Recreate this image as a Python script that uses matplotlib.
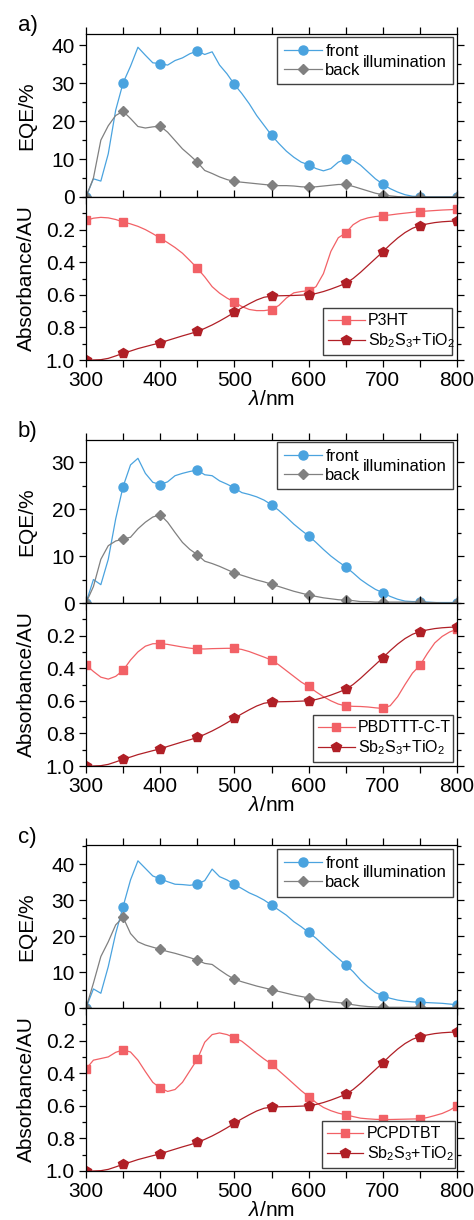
import numpy as np
import matplotlib
matplotlib.use("Agg")
from matplotlib import pyplot as plt
from matplotlib.lines import Line2D
from matplotlib.ticker import MultipleLocator, FormatStrFormatter

plt.rcParams['font.family'] = ['Liberation Sans', 'DejaVu Sans']
plt.rcParams['mathtext.fontset'] = 'custom'
plt.rcParams['mathtext.rm'] = 'Liberation Sans'
plt.rcParams['mathtext.it'] = 'Liberation Sans:italic'
plt.rcParams['mathtext.bf'] = 'Liberation Sans:bold'

# wavelength grid (nm), markers every 50 nm
wavelength = np.arange(300, 801, 10)

# ---- panel a) P3HT ----
eqe_a_front = [0, 4.8, 4.2, 11.4, 22.9, 30.1, 34.5, 39.5, 37.4, 35.4,
               35.2, 34.8, 36.0, 36.7, 37.8, 38.5, 37.6, 38.3, 34.8, 32.5,
               29.7, 27.3, 24.6, 21.5, 18.9, 16.3, 14.1, 12.1, 10.5, 9.2,
               8.5, 7.5, 6.9, 7.5, 9.2, 10.0, 9.8, 8.4, 6.6, 4.8,
               3.4, 2.2, 1.3, 0.6, 0.2, 0.1, 0, 0, 0, 0, 0]
eqe_a_back = [0, 5.0, 15.0, 18.8, 21.5, 22.6, 20.7, 18.6, 18.2, 18.5,
              18.7, 17.1, 14.9, 12.7, 11.0, 9.2, 7.0, 6.2, 5.3, 4.6,
              4.1, 3.9, 3.7, 3.5, 3.3, 3.1, 3.0, 3.0, 2.9, 2.7,
              2.6, 2.7, 2.9, 3.1, 3.3, 3.3, 2.8, 2.2, 1.6, 1.0,
              0.6, 0.3, 0.1, 0, 0, 0, 0, 0, 0, 0, 0]
abs_p3ht = [0.144, 0.130, 0.125, 0.128, 0.138, 0.153, 0.165, 0.180, 0.200, 0.225,
            0.252, 0.280, 0.310, 0.345, 0.390, 0.437, 0.490, 0.550, 0.590, 0.620,
            0.645, 0.672, 0.690, 0.697, 0.697, 0.691, 0.665, 0.620, 0.588, 0.580,
            0.575, 0.550, 0.470, 0.334, 0.250, 0.221, 0.170, 0.142, 0.128, 0.120,
            0.115, 0.110, 0.104, 0.099, 0.094, 0.089, 0.086, 0.083, 0.080, 0.078,
            0.076]

# ---- panel b) PBDTTT-C-T ----
eqe_b_front = [0, 5.0, 3.9, 9.3, 17.9, 24.8, 29.4, 30.8, 27.6, 25.7,
               25.2, 25.8, 27.1, 27.6, 28.0, 28.3, 27.3, 27.1, 26.0, 25.3,
               24.5, 23.5, 23.1, 22.6, 21.9, 20.9, 19.7, 18.3, 16.8, 15.5,
               14.3, 12.9, 11.4, 10.0, 8.8, 7.7, 6.4, 5.0, 3.9, 2.9,
               2.2, 1.4, 0.8, 0.4, 0.3, 0.3, 0.2, 0.1, 0.1, 0.1, 0.1]
eqe_b_back = [0, 3.5, 9.3, 12.2, 13.2, 13.6, 14.0, 15.8, 17.2, 18.3,
              18.8, 17.2, 15.0, 12.9, 11.4, 10.3, 8.9, 8.4, 7.8, 7.1,
              6.4, 5.9, 5.4, 4.9, 4.5, 4.0, 3.5, 3.0, 2.5, 2.1,
              1.7, 1.4, 1.1, 0.9, 0.7, 0.6, 0.5, 0.3, 0.3, 0.2,
              0.2, 0.2, 0.2, 0.2, 0.2, 0.2, 0.1, 0.1, 0, 0, 0]
abs_pbdttt = [0.380, 0.420, 0.455, 0.467, 0.450, 0.413, 0.350, 0.300, 0.265, 0.250,
              0.249, 0.254, 0.262, 0.270, 0.277, 0.282, 0.282, 0.280, 0.279, 0.278,
              0.278, 0.285, 0.298, 0.315, 0.332, 0.350, 0.380, 0.415, 0.450, 0.485,
              0.512, 0.545, 0.575, 0.600, 0.620, 0.631, 0.634, 0.635, 0.638, 0.643,
              0.647, 0.630, 0.575, 0.500, 0.430, 0.383, 0.310, 0.245, 0.205, 0.178,
              0.161]

# ---- panel c) PCPDTBT ----
eqe_c_front = [0, 5.3, 4.1, 11.5, 20.7, 28.2, 35.6, 40.9, 38.8, 36.7,
               35.9, 35.1, 34.4, 34.3, 34.1, 34.4, 35.4, 38.6, 36.5, 35.6,
               34.4, 33.2, 32.0, 31.1, 30.0, 28.6, 27.2, 25.8, 24.0, 22.6,
               21.0, 19.4, 17.5, 15.6, 13.8, 12.0, 10.1, 7.8, 5.9, 4.3,
               3.4, 2.7, 2.2, 1.9, 1.7, 1.6, 1.5, 1.4, 1.3, 1.1, 0.9]
eqe_c_back = [0, 6.9, 14.3, 18.4, 23.1, 25.2, 20.7, 18.4, 17.5, 16.9,
              16.3, 15.7, 15.2, 14.6, 14.0, 13.3, 12.4, 12.1, 10.6, 9.2,
              8.0, 7.3, 6.7, 6.1, 5.6, 5.1, 4.6, 4.1, 3.6, 3.2,
              2.8, 2.4, 2.0, 1.7, 1.5, 1.3, 0.9, 0.6, 0.4, 0.3,
              0.2, 0.2, 0.2, 0.2, 0.2, 0.2, 0.1, 0.1, 0.1, 0.1, 0.1]
abs_pcpdtbt = [0.374, 0.320, 0.310, 0.300, 0.272, 0.257, 0.270, 0.320, 0.390, 0.456,
               0.491, 0.512, 0.500, 0.456, 0.385, 0.315, 0.210, 0.163, 0.153, 0.163,
               0.182, 0.204, 0.240, 0.278, 0.313, 0.344, 0.385, 0.425, 0.466, 0.507,
               0.543, 0.580, 0.610, 0.630, 0.645, 0.655, 0.666, 0.676, 0.680, 0.683,
               0.684, 0.684, 0.683, 0.682, 0.681, 0.680, 0.672, 0.660, 0.647, 0.627,
               0.600]

# Sb2S3 + TiO2 reference absorbance (same in all panels)
abs_sb2s3 = [1.000, 1.000, 0.998, 0.990, 0.975, 0.959, 0.945, 0.930, 0.918, 0.906,
             0.895, 0.880, 0.866, 0.852, 0.839, 0.825, 0.806, 0.785, 0.761, 0.735,
             0.707, 0.680, 0.655, 0.632, 0.615, 0.608, 0.606, 0.605, 0.604, 0.602,
             0.600, 0.592, 0.580, 0.565, 0.548, 0.530, 0.500, 0.462, 0.420, 0.378,
             0.336, 0.292, 0.252, 0.218, 0.192, 0.175, 0.165, 0.157, 0.152, 0.149,
             0.147]

panel_labels = ['a)', 'b)', 'c)']
polymer_names = ['P3HT', 'PBDTTT-C-T', 'PCPDTBT']
eqe_tops = [43, 34.7, 45.3]

FRONT = '#4aa3df'
BACK = '#808080'
POLY = '#f26166'
SB = '#b01f26'

W, H = 474, 1220
fig = plt.figure(figsize=(W / 100, H / 100), dpi=100)


def px_axes(top, bottom, left=86, right=457):
    return fig.add_axes([left / W, 1 - bottom / H, (right - left) / W, (bottom - top) / H])


def style_axes(ax):
    for s in ax.spines.values():
        s.set_linewidth(0.9)
    ax.tick_params(which='both', direction='out', top=True, right=True,
                   labelsize=15, width=0.9, pad=3)
    ax.tick_params(which='major', length=5)
    ax.tick_params(which='minor', length=3)
    ax.tick_params(axis='x', which='minor', length=5)
    ax.set_xlim(300, 800)
    ax.xaxis.set_major_locator(MultipleLocator(100))
    ax.xaxis.set_minor_locator(MultipleLocator(50))


def draw_panel(idx, eqe_top_px, front, back, poly, legend_cfg):
    mid = eqe_top_px + 163
    bot = mid + 163
    wl = wavelength
    mk = slice(0, None, 5)

    # EQE
    ax1 = px_axes(eqe_top_px, mid)
    style_axes(ax1)
    front = np.array(front)
    back = np.array(back)
    ax1.plot(wl, front, color=FRONT, lw=0.9)
    ax1.plot(wl[mk], front[mk], 'o', color=FRONT, ms=6.5, ls='none')
    ax1.plot(wl, back, color=BACK, lw=0.9)
    ax1.plot(wl[mk], back[mk], 'D', color=BACK, ms=5.5, ls='none')
    ax1.set_ylim(0, eqe_tops[idx])
    ax1.yaxis.set_major_locator(MultipleLocator(10))
    ax1.yaxis.set_minor_locator(MultipleLocator(5))
    ax1.tick_params(labelbottom=False)
    ax1.set_ylabel('EQE/%', fontsize=15)
    ax1.yaxis.set_label_coords(-0.135, 0.5)
    h1 = [Line2D([], [], color=FRONT, lw=0.9, marker='o', ms=6.5),
          Line2D([], [], color=BACK, lw=0.9, marker='D', ms=5.5)]
    leg = ax1.legend(h1, ['front', 'back'], loc='upper left', mode='expand',
                     bbox_to_anchor=(0.515, 0.0, 0.474, legend_cfg[0]),
                     borderaxespad=0, fontsize=12, fancybox=False, framealpha=1,
                     edgecolor='#404040', borderpad=0.4, labelspacing=0.25,
                     handlelength=2.3, handletextpad=0.2)
    leg.get_frame().set_linewidth(1.0)
    ax1.text(0.747, legend_cfg[1], 'illumination', transform=ax1.transAxes,
             fontsize=12, ha='left', va='center', zorder=10)

    # Absorbance
    ax2 = px_axes(mid, bot)
    style_axes(ax2)
    poly = np.array(poly)
    sb = np.array(abs_sb2s3)
    ax2.plot(wl, poly, color=POLY, lw=0.9)
    ax2.plot(wl[mk], poly[mk], 's', color=POLY, ms=5.5, ls='none')
    ax2.plot(wl, sb, color=SB, lw=0.9)
    ax2.plot(wl[mk], sb[mk], 'p', color=SB, ms=7, ls='none')
    ax2.set_ylim(1.0, 0.0)
    ax2.set_yticks([0.2, 0.4, 0.6, 0.8, 1.0])
    ax2.yaxis.set_minor_locator(MultipleLocator(0.1))
    ax2.yaxis.set_major_formatter(FormatStrFormatter('%.1f'))
    ax2.set_ylabel('Absorbance/AU', fontsize=15)
    ax2.yaxis.set_label_coords(-0.135, 0.5)
    ax2.set_xlabel(r'$\lambda$/nm', fontsize=15, labelpad=0)
    h2 = [Line2D([], [], color=POLY, lw=0.9, marker='s', ms=5.5),
          Line2D([], [], color=SB, lw=0.9, marker='p', ms=7)]
    leg2 = ax2.legend(h2, [polymer_names[idx], r'Sb$_2$S$_3$+TiO$_2$'],
                      loc='lower left', mode='expand',
                      bbox_to_anchor=(legend_cfg[2], legend_cfg[4], legend_cfg[3], 0.5),
                      borderaxespad=0, fontsize=11.5, fancybox=False, framealpha=1,
                      edgecolor='#404040', borderpad=0.3, labelspacing=0.2,
                      handlelength=2.3, handletextpad=0.2)
    leg2.get_frame().set_linewidth(1.0)

    fig.text(18 / W, 1 - (eqe_top_px - 8) / H, panel_labels[idx], fontsize=16,
             ha='left', va='center')


draw_panel(0, 34, eqe_a_front, eqe_a_back, abs_p3ht, (0.982, 0.828, 0.639, 0.348, 0.031))
draw_panel(1, 440, eqe_b_front, eqe_b_back, abs_pbdttt, (0.988, 0.84, 0.612, 0.377, 0.025))
draw_panel(2, 845, eqe_c_front, eqe_c_back, abs_pcpdtbt, (0.975, 0.834, 0.636, 0.358, 0.019))

fig.savefig('out.png', dpi=100)
